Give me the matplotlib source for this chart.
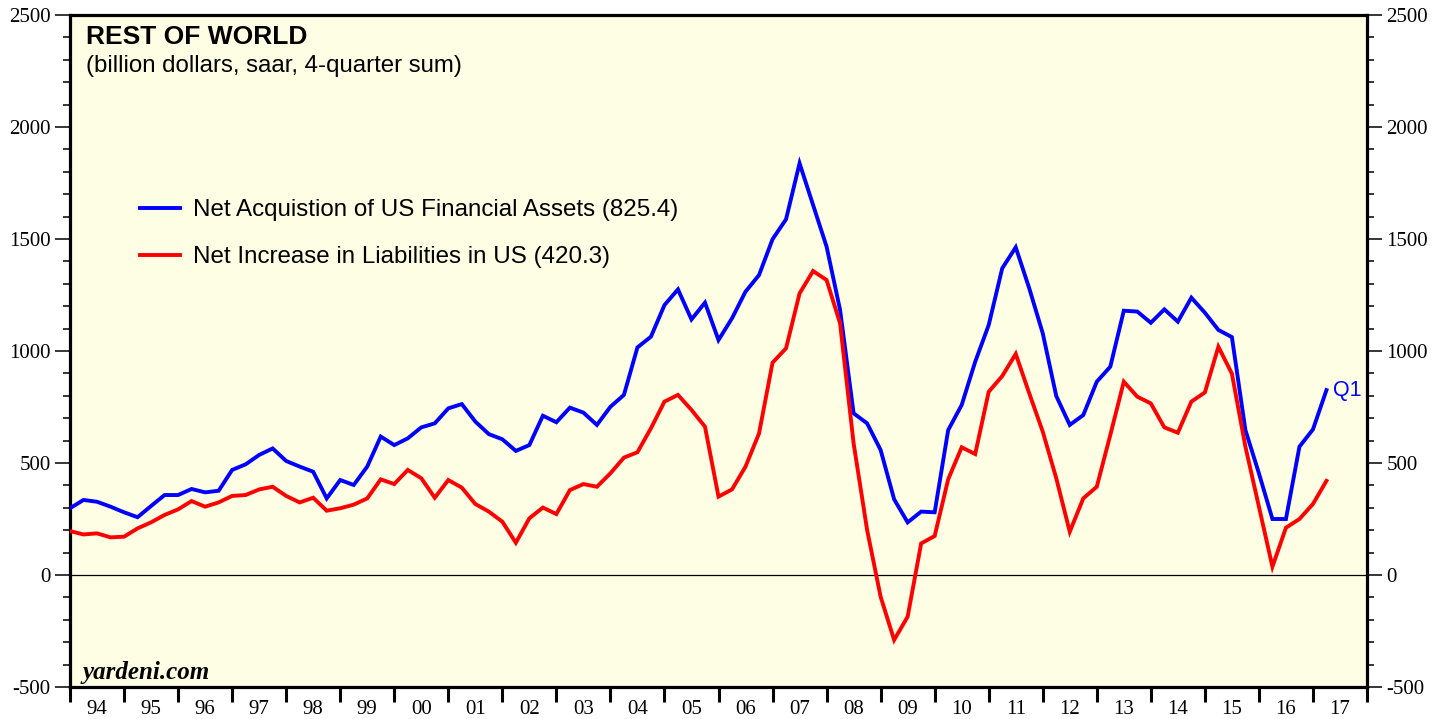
import matplotlib
matplotlib.use("Agg")
import matplotlib.pyplot as plt
import numpy as np
from matplotlib.ticker import MultipleLocator, FixedLocator, NullFormatter

plt.rcParams['axes.unicode_minus'] = False

# Quarterly data, 1993Q4 .. 2017Q1 (plotted at quarter end)
start_year = 1994.0
assets = [298, 335, 327, 305, 280, 258, 308, 357, 357, 384, 369, 376, 469, 494, 536, 565,
          509, 484, 461, 342, 424, 402, 484, 618, 580, 610, 659, 677, 744, 763, 685, 629,
          606, 554, 580, 711, 682, 747, 725, 670, 751, 804, 1016, 1064, 1205, 1275, 1141, 1216,
          1049, 1146, 1265, 1339, 1499, 1588, 1838, 1652, 1466, 1183, 722, 677, 558, 338,
          235, 283, 280, 647, 759, 952, 1116, 1369, 1463, 1280, 1079, 799, 670, 714, 863, 930,
          1180, 1176, 1126, 1186, 1131, 1238, 1171, 1094, 1062, 647, 454, 250, 250, 573, 650, 825.4]
liabilities = [196, 181, 186, 168, 171, 208, 235, 268, 293, 330, 305, 324, 353, 357, 382, 394,
               353, 324, 345, 287, 298, 314, 342, 427, 406, 469, 432, 345, 424, 390, 317, 283,
               238, 144, 253, 301, 272, 379, 406, 394, 454, 524, 548, 655, 774, 804, 737, 662,
               350, 382, 484, 632, 948, 1012, 1257, 1357, 1317, 1123, 588, 201, -97, -290,
               -186, 141, 174, 427, 570, 540, 818, 888, 987, 811, 640, 432, 193, 342, 394, 625,
               863, 796, 766, 659, 635, 774, 815, 1019, 899, 573, 305, 37, 211, 250, 317, 420.3]
year_labels = ['94', '95', '96', '97', '98', '99', '00', '01', '02', '03', '04', '05',
               '06', '07', '08', '09', '10', '11', '12', '13', '14', '15', '16', '17']
label_assets = "Net Acquistion of US Financial Assets (825.4)"
label_liab = "Net Increase in Liabilities in US (420.3)"

x = start_year + 0.25 * np.arange(len(assets))

fig = plt.figure(figsize=(14.48, 7.19), dpi=100)
ax = fig.add_axes([70/1448, 32/719, 1297/1448, 672/719])
ax.set_facecolor('#fefee4')

ax.axhline(0, color='black', lw=0.9, zorder=1)
l1, = ax.plot(x, assets, color='#0000ff', lw=2.8, zorder=3, solid_joinstyle='miter')
l2, = ax.plot(x, liabilities, color='#ff0000', lw=2.8, zorder=3, solid_joinstyle='miter')

ax.set_xlim(1994, 2018)
ax.set_ylim(-500, 2500)

for s in ax.spines.values():
    s.set_linewidth(2.3)

serif = 'Liberation Serif'
sans = 'Liberation Sans'

ax.yaxis.set_major_locator(MultipleLocator(500))
ax.yaxis.set_minor_locator(MultipleLocator(100))
ax.tick_params(axis='y', which='major', direction='out', length=11, width=1.1,
               left=True, right=True, labelleft=True, labelright=True, pad=3, labelsize=15)
ax.tick_params(axis='y', which='minor', direction='out', length=5, width=1.1,
               left=True, right=True)
for lab in ax.get_yticklabels():
    lab.set_fontfamily(serif)

years = np.arange(1994, 2019)
ax.xaxis.set_major_locator(FixedLocator(years))
ax.xaxis.set_major_formatter(NullFormatter())
ax.xaxis.set_minor_locator(FixedLocator(years[:-1] + 0.5))
ax.set_xticklabels(year_labels, minor=True, fontfamily=serif, fontsize=15)
ax.tick_params(axis='x', which='major', direction='out', length=11, width=2.2)
ax.tick_params(axis='x', which='minor', length=0, pad=9)

# Titles
fig.text(86/1448, 1 - 37/719, 'REST OF WORLD', fontfamily=sans, fontweight='bold',
         fontsize=19, va='center', ha='left')
fig.text(86/1448, 1 - 66/719, '(billion dollars, saar, 4-quarter sum)', fontfamily=sans,
         fontsize=17.3, va='center', ha='left')

# Legend
leg = ax.legend([l1, l2], [label_assets, label_liab], loc='upper left',
                bbox_to_anchor=((140 - 70)/1297, (704 - 216)/672), frameon=False,
                prop={'family': sans, 'size': 17.4}, handlelength=1.65, handletextpad=0.55,
                labelspacing=1.05, borderaxespad=0, borderpad=0)

ax.annotate('Q1', xy=(x[-1], assets[-1]), xytext=(5, 0), textcoords='offset points',
            color='#0000ff', fontfamily=sans, fontsize=15.5, va='center', ha='left')

fig.text(82/1448, 1 - 673/719, 'yardeni.com', fontfamily=serif, fontweight='bold',
         fontstyle='italic', fontsize=18, va='center', ha='left')

fig.savefig('out.png', dpi=100)
